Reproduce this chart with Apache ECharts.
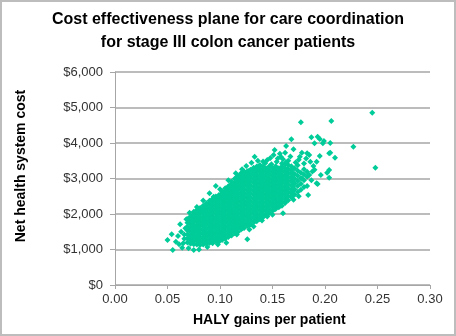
<!DOCTYPE html>
<html>
<head>
<meta charset="utf-8">
<script src="https://cdn.jsdelivr.net/npm/echarts@6/dist/echarts.min.js"></script>
<style>
html,body{margin:0;padding:0;background:#fff;}
#chart{width:456px;height:336px;}
</style>
</head>
<body>
<div id="chart"></div>
<script>
// Column x-values (HALY gains) of the dense core and the costs read at each
const coreHaly = [0.069,0.072,0.075,0.078,0.081,0.084,0.087,0.090,0.093,0.096,0.099,0.102,0.105,0.108,0.111,0.114,0.117,0.120,0.123,0.126,0.129,0.132,0.135,0.138,0.141,0.144,0.147,0.150,0.153,0.156,0.159,0.162,0.165,0.168,0.171,0.174,0.177,0.180,0.183];
const coreCost = [
  [1200,1310,1420,1535,1640,1755],
  [1160,1265,1375,1490,1595,1710,1815,1925],
  [1150,1215,1325,1430,1545,1650,1765,1870,1985,2060],
  [1140,1265,1370,1485,1590,1700,1815,1920,2030,2110],
  [1130,1210,1320,1435,1540,1655,1760,1870,1985,2090,2170],
  [1140,1260,1365,1480,1585,1695,1810,1915,2030,2135,2230],
  [1160,1245,1360,1465,1575,1690,1795,1905,2020,2125,2240,2300],
  [1185,1295,1405,1515,1625,1735,1845,1955,2065,2175,2285,2370],
  [1175,1280,1395,1500,1615,1720,1835,1940,2055,2160,2275,2380,2430],
  [1230,1340,1450,1560,1670,1780,1890,2000,2110,2220,2330,2440,2490],
  [1215,1325,1435,1545,1655,1765,1875,1985,2095,2205,2315,2425,2535],
  [1265,1375,1490,1600,1710,1820,1930,2040,2150,2260,2370,2480,2590,2640],
  [1300,1410,1520,1635,1745,1855,1965,2075,2185,2295,2405,2515,2625,2725],
  [1350,1465,1575,1685,1795,1905,2015,2125,2235,2345,2455,2565,2675,2785],
  [1395,1505,1620,1730,1840,1950,2060,2170,2280,2390,2500,2610,2720,2830,2905],
  [1455,1560,1675,1785,1895,2005,2115,2225,2335,2445,2555,2665,2775,2885,2990],
  [1495,1610,1720,1830,1940,2050,2160,2270,2380,2490,2600,2710,2820,2930,3040,3080],
  [1560,1665,1780,1890,2000,2110,2220,2330,2440,2550,2660,2770,2880,2990,3100,3150],
  [1605,1715,1825,1935,2045,2155,2265,2375,2485,2595,2705,2815,2925,3035,3145,3200],
  [1665,1770,1885,1995,2105,2215,2325,2435,2545,2655,2765,2875,2985,3095,3205],
  [1705,1815,1925,2035,2145,2255,2365,2475,2585,2695,2805,2915,3025,3135,3245],
  [1770,1880,1990,2100,2210,2320,2430,2540,2650,2760,2870,2980,3090,3200,3300],
  [1795,1905,2015,2125,2235,2345,2455,2565,2675,2785,2895,3005,3115,3225,3335],
  [1855,1965,2075,2185,2295,2405,2515,2625,2735,2845,2955,3065,3175,3285,3360],
  [1905,2015,2125,2235,2345,2455,2565,2675,2785,2895,3005,3115,3225,3335],
  [1970,2075,2185,2295,2405,2515,2625,2735,2845,2955,3065,3175,3285],
  [2025,2135,2245,2355,2465,2575,2685,2795,2905,3015,3125,3235,3345],
  [2090,2195,2305,2415,2525,2635,2745,2855,2965,3075,3185,3295],
  [2140,2245,2355,2465,2575,2685,2795,2905,3015,3125,3235,3345],
  [2190,2300,2410,2520,2630,2740,2850,2960,3070,3180,3290],
  [2230,2345,2455,2565,2675,2785,2895,3005,3115,3225,3335],
  [2310,2410,2520,2630,2740,2850,2960,3070,3180,3290,3400],
  [2390,2500,2610,2720,2830,2940,3050,3160,3270,3380],
  [2470,2575,2685,2795,2905,3015,3125,3235,3345],
  [2540,2700,2860,2990,3130,3290],
  [2620,2790,2930,3080,3220,3370],
  [2680,2850,3005,3160],
  [2760,2950,3110,3260],
  [3050,3190]
];
// In-between columns of the dense centre
const midHaly = [0.0735,0.0795,0.0855,0.0915,0.0975,0.1035,0.1095,0.1155,0.1215,0.1275,0.1335,0.1395,0.1455,0.1515,0.1575,0.1635,0.1695];
const midCost = [
  [1230,1345,1455,1570,1680,1790],
  [1190,1300,1410,1520,1630,1740,1850,1960,2060],
  [1200,1310,1420,1530,1640,1750,1860,1970,2080,2180],
  [1240,1350,1460,1570,1680,1790,1900,2010,2120,2230,2330],
  [1280,1390,1500,1610,1720,1830,1940,2050,2160,2270,2380,2470],
  [1320,1430,1540,1650,1760,1870,1980,2090,2200,2310,2420,2530,2620],
  [1400,1510,1620,1730,1840,1950,2060,2170,2280,2390,2500,2610,2720,2810],
  [1500,1610,1720,1830,1940,2050,2160,2270,2380,2490,2600,2710,2820,2930,3010],
  [1600,1710,1820,1930,2040,2150,2260,2370,2480,2590,2700,2810,2920,3030,3120],
  [1700,1810,1920,2030,2140,2250,2360,2470,2580,2690,2800,2910,3020,3130,3210],
  [1800,1910,2020,2130,2240,2350,2460,2570,2680,2790,2900,3010,3120,3230],
  [1900,2010,2120,2230,2340,2450,2560,2670,2780,2890,3000,3110,3220],
  [2010,2120,2230,2340,2450,2560,2670,2780,2890,3000,3110,3220],
  [2130,2240,2350,2460,2570,2680,2790,2900,3010,3120,3230],
  [2240,2350,2460,2570,2680,2790,2900,3010,3120,3230],
  [2380,2490,2600,2710,2820,2930,3040,3150,3260],
  [2530,2650,2780,2900,3020,3150]
];
// Scattered points around the lower-left and edges of the cloud
const edgePoints = [
  [0.050,1268],[0.054,1428],[0.055,986],[0.058,1220],[0.062,1709],[0.065,1174],[0.070,1033],[0.075,986],
  [0.060,1380],[0.063,1500],[0.066,1300],[0.064,1050],[0.067,1600],[0.061,1150],[0.066,1420],[0.068,1850],
  [0.071,2037],[0.078,2200],[0.084,2380],[0.080,1000],[0.088,1070],[0.098,1140],[0.106,1192],[0.116,1420],
  [0.126,1287],[0.128,1560],[0.132,1650],[0.140,1820],[0.145,1930],[0.150,1980],[0.160,2018],[0.170,2400],
  [0.175,2500],[0.090,2583],[0.094,2488],[0.096,2789],[0.100,2700],[0.108,2950],[0.115,3150],[0.121,3258],
  [0.125,3350],[0.130,3445],[0.133,3615],[0.138,3380],[0.070,1880],[0.074,1960]
];
// Sparse upper-right points
const upperPoints = [
  [0.136,3500],[0.141,3480],[0.145,3520],[0.148,3580],[0.151,3662],[0.152,3803],[0.155,3560],[0.157,3700],
  [0.158,3610],[0.160,3540],[0.162,3727],[0.163,3915],[0.165,3500],[0.167,3620],[0.168,4104],[0.170,3822],
  [0.172,3450],[0.175,3530],[0.176,3610],[0.177,4583],[0.178,3727],[0.180,3420],[0.182,3560],[0.183,3710],
  [0.185,3662],[0.186,3474],[0.187,4160],[0.189,3352],[0.190,3991],[0.192,3474],[0.193,4178],[0.195,3634],
  [0.195,4113],[0.198,3991],[0.199,4056],[0.205,4000],[0.206,4620],[0.227,3896],[0.245,4853],[0.248,3304],
  [0.204,3710],[0.205,3727],[0.2095,3586],[0.202,3164],[0.204,3239],[0.204,3023],[0.193,2845],[0.192,2864],
  [0.183,2789],[0.184,2535],[0.178,3005],[0.190,3250],[0.187,2950],[0.196,3100],[0.185,3100],[0.188,3200],
  [0.143,3430],[0.149,3400],[0.154,3470],[0.159,3420],[0.163,3460]
];
const xTicks = {min:0, max:0.30, step:0.05};
const yTicks = {min:0, max:6000, step:1000};

const points = [];
coreHaly.forEach((x,i)=>coreCost[i].forEach(y=>points.push([x,y])));
midHaly.forEach((x,i)=>midCost[i].forEach(y=>points.push([x,y])));
edgePoints.forEach(p=>points.push(p));
upperPoints.forEach(p=>points.push(p));

const chart = echarts.init(document.getElementById('chart'));
const font = '"Liberation Sans", Arial, sans-serif';
chart.setOption({
  animation:false,
  backgroundColor:'#fff',
  title:{
    text:'Cost effectiveness plane for care coordination\nfor stage III colon cancer patients',
    left:'center', top:3,
    textStyle:{fontFamily:font,fontSize:16,fontWeight:'bold',color:'#000',lineHeight:23}
  },
  grid:{left:115,right:26,top:72,bottom:51,containLabel:false},
  xAxis:{
    type:'value',min:xTicks.min,max:xTicks.max,interval:xTicks.step,
    axisLine:{show:true,lineStyle:{color:'#a6a6a6',width:1}},
    axisTick:{show:true,inside:false,length:4,lineStyle:{color:'#a6a6a6'}},
    axisLabel:{margin:8,fontFamily:font,fontSize:13,color:'#333',formatter:v=>v.toFixed(2)},
    splitLine:{show:false}
  },
  yAxis:{
    type:'value',min:yTicks.min,max:yTicks.max,interval:yTicks.step,
    axisLine:{show:true,lineStyle:{color:'#a6a6a6',width:1}},
    axisTick:{show:true,inside:false,length:5,lineStyle:{color:'#a6a6a6'}},
    axisLabel:{margin:12,fontFamily:font,fontSize:13,color:'#333',
      formatter:v=>'$'+v.toLocaleString('en-US')},
    splitLine:{show:true,lineStyle:{color:'#a6a6a6',width:1.5}}
  },
  graphic:[
    {type:'rect',shape:{x:1,y:1,width:454,height:334},style:{fill:'none',stroke:'#bdbdbd',lineWidth:2},silent:true},
    {type:'text',left:272-79,top:313,style:{text:'HALY gains per patient',font:'bold 14px '+font,fill:'#000'}},
    {type:'text',x:21,y:166,rotation:Math.PI/2,style:{text:'Net health system cost',font:'bold 14px '+font,fill:'#000',align:'center',verticalAlign:'middle'}}
  ],
  series:[{
    type:'scatter',symbol:'diamond',symbolSize:6,
    itemStyle:{color:'#00cc99',opacity:1},
    data:points
  }]
});
</script>
</body>
</html>
